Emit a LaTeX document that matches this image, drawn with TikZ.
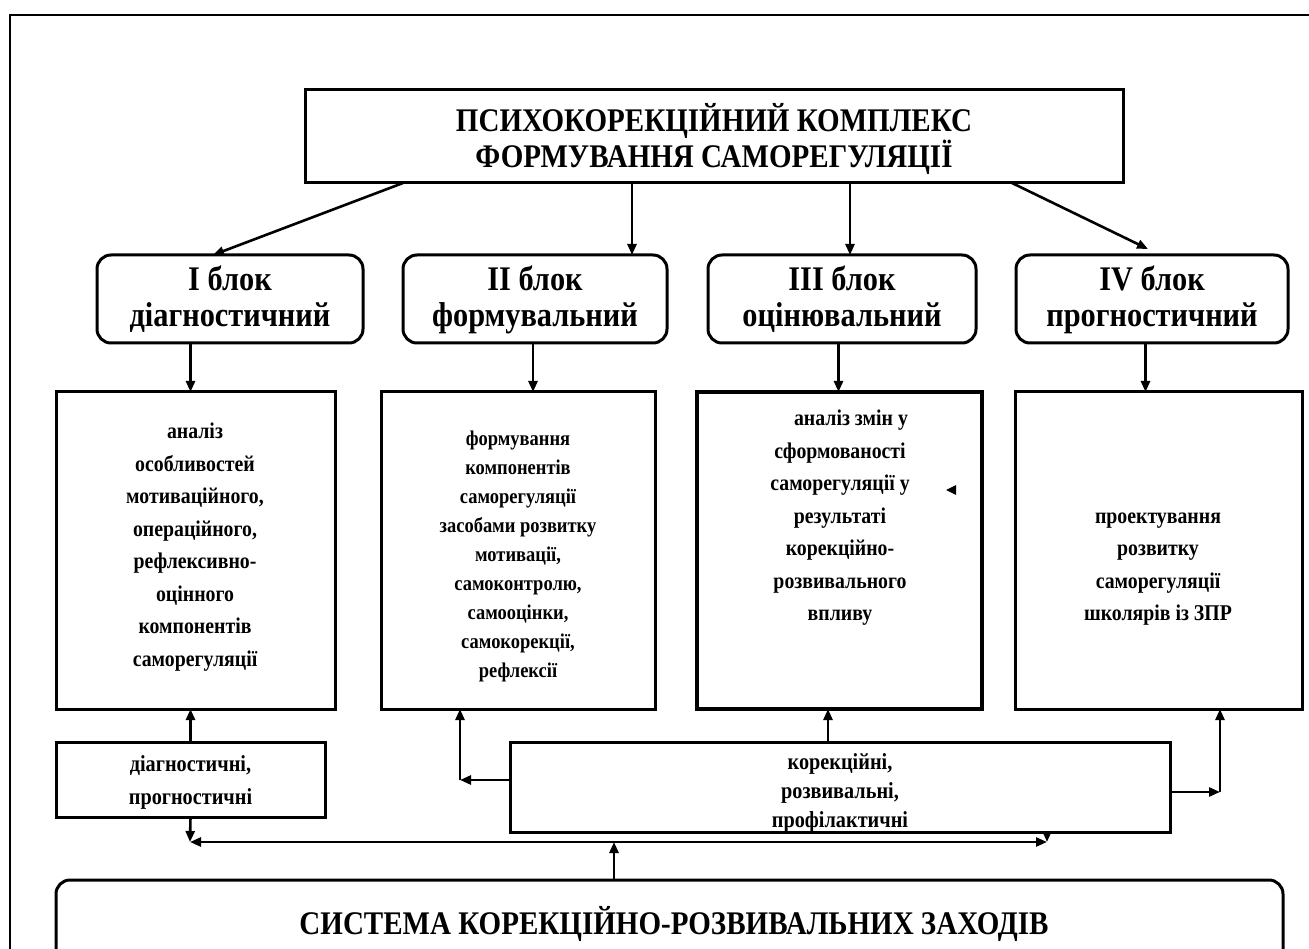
\documentclass[tikz,border=0pt]{standalone}
\usepackage{fontspec}
\setmainfont{Liberation Serif}[FakeStretch=0.88]
\usetikzlibrary{arrows.meta,calc}
\begin{document}
\begin{tikzpicture}[x=1pt,y=-1pt,
  box/.style={draw,line width=3pt,inner sep=0pt,outer sep=0pt},
  rbox/.style={box,rounded corners=14pt},
  arr/.style={line width=2.6pt,-{Triangle[length=11pt,width=9pt]}},
  big/.style={font=\fontsize{33}{33}\selectfont\bfseries,align=center},
  blk/.style={font=\fontsize{34.5}{36}\selectfont\bfseries,align=center},
  txt/.style={font=\fontsize{22.5}{32.5}\selectfont\bfseries,align=center,inner sep=0pt},
  ]
\useasboundingbox (0,0) rectangle (1309,949);
\fill[white] (0,0) rectangle (1309,949);
\draw[line width=1.3pt] (10,949) -- (10,15) -- (1309,15);

% top box
\node[box,minimum width=818,minimum height=93] (top) at (714,136.5) {};
\node[big] (ttop) at (714,139) {ПСИХОКОРЕКЦІЙНИЙ КОМПЛЕКС\\ФОРМУВАННЯ САМОРЕГУЛЯЦІЇ};

% blocks
\node[rbox,minimum width=266,minimum height=88] (b1) at (230,299) {};
\node[rbox,minimum width=264,minimum height=88] (b2) at (535,299) {};
\node[rbox,minimum width=268,minimum height=88] (b3) at (842,299) {};
\node[rbox,minimum width=272,minimum height=88] (b4) at (1152,299) {};
\node[blk] (tb1) at (230,301) {\strut І блок\\діагностичний\strut};
\node[blk] (tb2) at (535,301) {\strut II блок\\формувальний\strut};
\node[blk] (tb3) at (842,301) {\strut III блок\\оцінювальний\strut};
\node[blk] (tb4) at (1152,301) {\strut IV блок\\прогностичний\strut};

% analysis boxes
\node[box,minimum width=279,minimum height=317] (a1) at (195.5,550.5) {};
\node[box,minimum width=274,minimum height=317] (a2) at (518,550.5) {};
\node[box,line width=4pt,minimum width=285,minimum height=317] (a3) at (839.5,550.5) {};
\node[box,minimum width=287,minimum height=317] (a4) at (1158.5,550.5) {};

\node[txt] (t1) at (195,547) {аналіз\\особливостей\\мотиваційного,\\операційного,\\рефлексивно-\\оцінного\\компонентів\\саморегуляції};
\node[txt,font=\fontsize{21}{29}\selectfont\bfseries] (t2) at (518,556) {формування\\компонентів\\саморегуляції\\засобами розвитку\\мотивації,\\самоконтролю,\\самооцінки,\\самокорекції,\\рефлексії};
\node[txt] (t3) at (840,518) {\hspace*{22pt}аналіз змін у\\сформованості\\саморегуляції у\\результаті\\корекційно-\\розвивального\\впливу};
\node[txt] (t4) at (1158,569) {проектування\\розвитку\\саморегуляції\\школярів із ЗПР};
\fill (946,490) coordinate (tri) -- (956,485) -- (956,495) -- cycle;

% lower boxes
\node[box,minimum width=269,minimum height=75] (d) at (190.5,779.5) {};
\node[txt,font=\fontsize{23}{33}\selectfont\bfseries] (td) at (190.5,782) {діагностичні,\\прогностичні};
\node[box,minimum width=660,minimum height=90] (k) at (840,787) {};
\node[txt,font=\fontsize{23}{29}\selectfont\bfseries] (tk) at (840,793) {корекційні,\\розвивальні,\\профілактичні};
\node[rbox,minimum width=1227,minimum height=90] (s) at (669.5,925) {};
\node[font=\fontsize{33}{33}\selectfont\bfseries] (ts) at (674,924) {СИСТЕМА КОРЕКЦІЙНО-РОЗВИВАЛЬНИХ ЗАХОДІВ};

% arrows top -> blocks
\draw[arr] ([xshift=-311pt]top.south) -- ([xshift=-17pt]b1.north);
\draw[arr] ([xshift=-82pt]top.south) -- ([xshift=-82pt]top.south |- b2.north);
\draw[arr] ([xshift=136pt]top.south) -- ([xshift=136pt]top.south |- b3.north);
\draw[arr] ([xshift=298pt]top.south) -- ([xshift=-4pt,yshift=6pt]b4.north);

% blocks -> analysis
\draw[arr] ([xshift=-5pt]a1.north |- b1.south) -- ([xshift=-5pt]a1.north);
\draw[arr] ([xshift=15pt]a2.north |- b2.south) -- ([xshift=15pt]a2.north);
\draw[arr] ([xshift=-1pt]a3.north |- b3.south) -- ([xshift=-1pt]a3.north);
\draw[arr] ([xshift=-13pt]a4.north |- b4.south) -- ([xshift=-13pt]a4.north);

% lower connections
\draw[arr] (d.north) -- (d.north |- a1.south);
\draw[arr] ([xshift=-12pt]k.north) -- ([xshift=-12pt]k.north |- a3.south);
\coordinate (cl) at (460,780);
\coordinate (cr) at (1220,792);
\draw[arr] (k.west |- cl) -- (cl);
\draw[arr] (cl) -- (cl |- a2.south);
\draw[arr] (k.east |- cr) -- (cr);
\draw[arr] (cr) -- (cr |- a4.south);

\coordinate (hl) at (190,842);
\coordinate (hr) at (1047,842);
\coordinate (hm) at (614,842);
\draw[arr] (d.south) -- (hl);
\draw[arr] (hr |- k.south) -- (hr);
\draw[arr] (hm) -- (hl);
\draw[arr] (hm) -- (hr);
\draw[arr] (hm |- s.north) -- (hm);
\end{tikzpicture}
\end{document}
